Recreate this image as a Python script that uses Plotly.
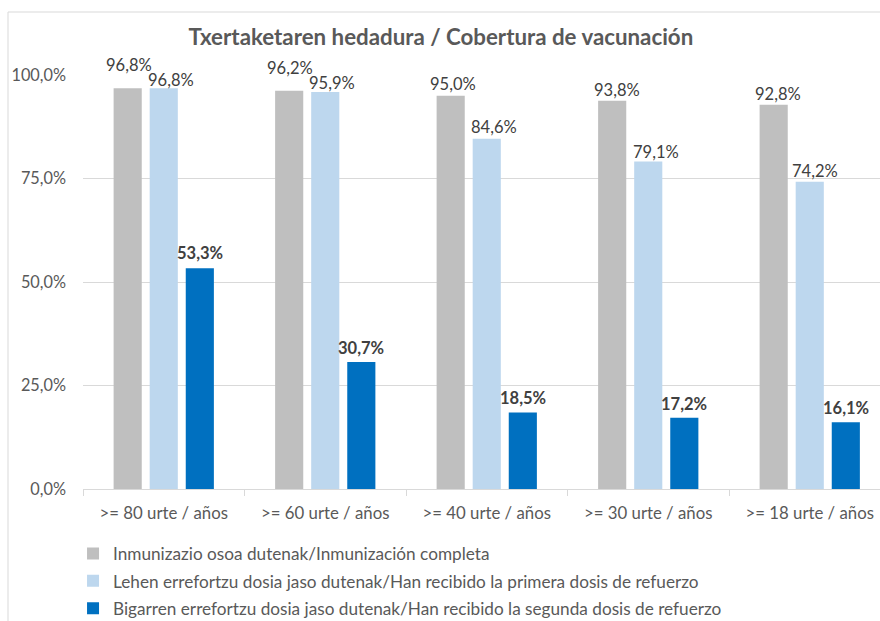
import plotly.graph_objects as go

categories = [">= 80 urte / años", ">= 60 urte / años", ">= 40 urte / años",
              ">= 30 urte / años", ">= 18 urte / años"]
series_names = [
    "Inmunizazio osoa dutenak/Inmunización completa",
    "Lehen errefortzu dosia jaso dutenak/Han recibido la primera dosis de refuerzo",
    "Bigarren errefortzu dosia jaso dutenak/Han recibido la segunda dosis de refuerzo",
]
full_immunization = [0.968, 0.962, 0.950, 0.938, 0.928]
first_booster = [0.968, 0.959, 0.846, 0.791, 0.742]
second_booster = [0.533, 0.307, 0.185, 0.172, 0.161]

series_values = [full_immunization, first_booster, second_booster]
colors = ["#bfbfbf", "#bdd7ee", "#0070c0"]
label_bold = [False, False, True]
# label offsets (px) relative to bar top centre, per series/category
label_yshift = [
    [23, 23, 12, 11, 11],
    [8, 9, 12, 10, 11],
    [15, 14, 14, 14, 14],
]
label_xshift = [
    [1, 1, 2, 5, 4],
    [7, 7, 7, 8, 5],
    [0, 0, 0, 0, 0],
]

FONT = "Lato"
BARGAP = 0.33
slot = (1 - BARGAP) / 3

fig = go.Figure()
for k, (name, vals, col) in enumerate(zip(series_names, series_values, colors)):
    fig.add_trace(go.Bar(
        name=name, x=categories, y=vals, marker=dict(color=col, line=dict(width=0)),
        legendgroup=f"g{k}", hoverinfo="skip",
    ))

annotations = []
for k, vals in enumerate(series_values):
    for i, v in enumerate(vals):
        txt = f"{v*100:.1f}%".replace(".", ",")
        if label_bold[k]:
            txt = f"<b>{txt}</b>"
        annotations.append(dict(
            x=i + (k - 1) * slot, y=v, xref="x", yref="y", text=txt,
            showarrow=False, yanchor="middle",
            yshift=label_yshift[k][i], xshift=label_xshift[k][i],
            font=dict(family=FONT, size=16.5, color="#404040"),
        ))

fig.update_layout(
    width=880, height=621,
    margin=dict(l=83, r=0, t=75, b=132, autoexpand=False),
    paper_bgcolor="white", plot_bgcolor="white",
    separators=",.",
    barmode="group", bargap=BARGAP, bargroupgap=0.22,
    font=dict(family=FONT, size=16, color="#595959"),
    title=dict(text="<b>Txertaketaren hedadura / Cobertura de vacunación</b>",
               x=0.501, xref="container", xanchor="center",
               y=1 - 37 / 621, yref="container", yanchor="middle",
               font=dict(family=FONT, size=22.3, color="#595959")),
    xaxis=dict(type="category", range=[-0.5, 4.435], showline=True,
               linecolor="#d9d9d9", linewidth=1, ticks="outside",
               tickson="boundaries", ticklen=6, tickcolor="#d9d9d9",
               showgrid=False, ticklabelstandoff=9,
               tickfont=dict(family=FONT, size=16.8, color="#595959")),
    yaxis=dict(range=[0, 1], tickvals=[0, 0.25, 0.5, 0.75, 1.0],
               tickformat=".1%", showgrid=True, gridcolor="#d9d9d9",
               gridwidth=1, zeroline=False, showline=False, ticks="",
               ticklabelstandoff=16,
               tickfont=dict(family=FONT, size=16.3, color="#595959")),
    showlegend=True,
    legend=dict(orientation="v", x=-0.0125, xanchor="left", y=-0.113,
                yanchor="top", tracegroupgap=2,
                font=dict(family=FONT, size=17.2, color="#595959"),
                bgcolor="rgba(0,0,0,0)"),
    annotations=annotations,
    shapes=[dict(type="rect", xref="paper", yref="paper",
                 x0=(8 - 83) / 797, x1=1.2, y0=-1, y1=(489 - 12) / 414,
                 line=dict(color="#d9d9d9", width=1), layer="below")],
)

fig.write_html("out.html", config={"displayModeBar": False},
               post_script="document.body.style.margin='0';document.body.style.overflow='hidden';")
